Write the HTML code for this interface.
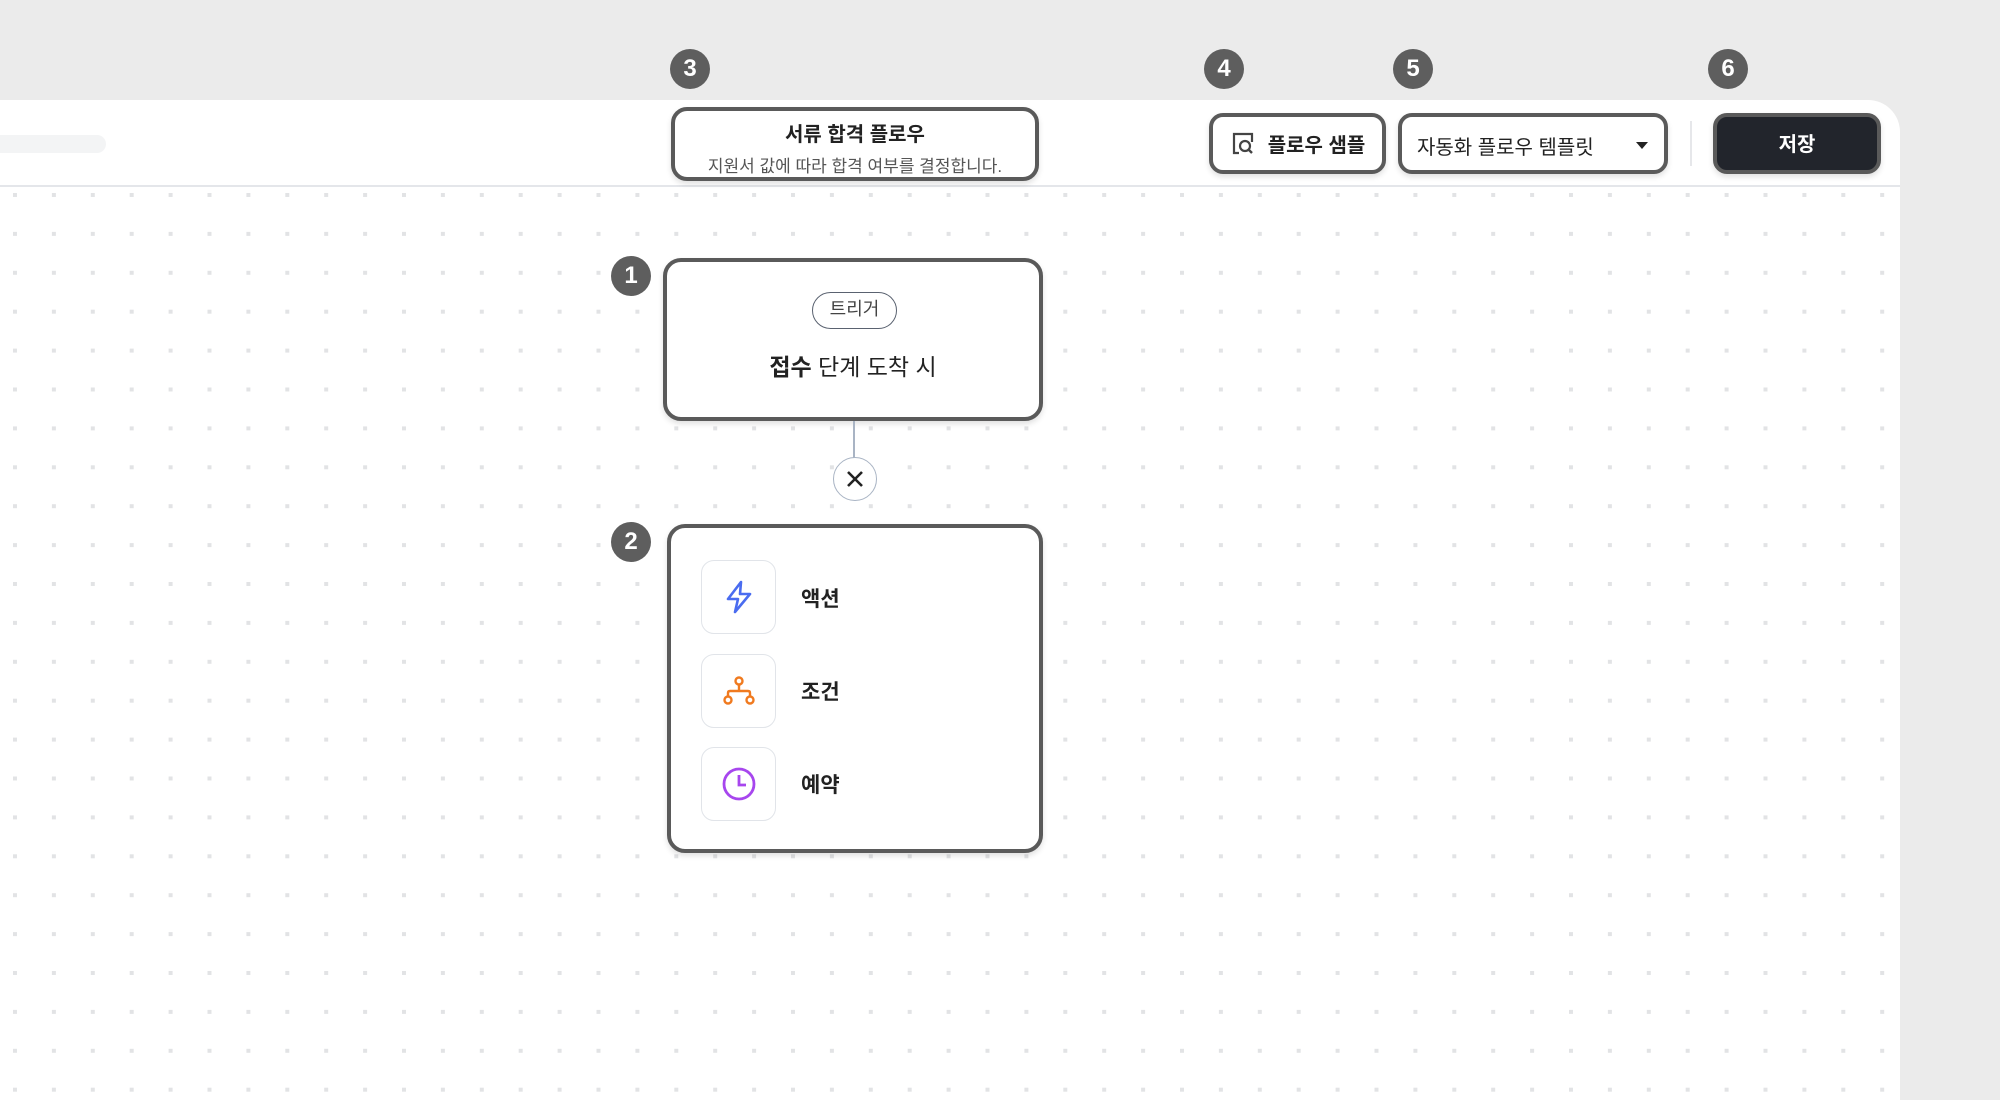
<!DOCTYPE html>
<html><head><meta charset="utf-8"><style>
*{box-sizing:border-box;margin:0;padding:0}
body{width:2000px;height:1100px;background:#ebebeb;position:relative;overflow:hidden;font-family:"Liberation Sans","Noto Sans CJK KR",sans-serif;color:#222}
.panel{position:absolute;left:0;top:100px;width:1900px;height:1000px;background:#fff;border-top-right-radius:32px;overflow:hidden}
.grid{position:absolute;left:0;top:86px;width:1900px;height:914px;background-image:linear-gradient(#fff,#fff);background:
 linear-gradient(90deg,transparent 13px,#fff 13px) , linear-gradient(transparent 7px,#fff 7px), #dedfe1;}
.dots{position:absolute;left:0;top:87px;width:1900px;height:913px;overflow:hidden}
.hline{position:absolute;left:0;top:85px;width:1900px;height:2px;background:#e4e6ea}
.a{position:absolute}
.badge{position:absolute;width:40px;height:40px;border-radius:50%;background:#5e5e5e;color:#fff;font-weight:bold;font-size:24px;text-align:center;line-height:40px}
.box{position:absolute;border:4px solid #5a5a5a;border-radius:16px;background:#fff;box-shadow:0 3px 6px rgba(0,0,0,.12)}
.ib{position:absolute;left:30px;width:75px;height:74px;border:1.5px solid #e1e4e9;border-radius:13px;display:flex;align-items:center;justify-content:center}
.lbl{position:absolute;left:130px;font-size:21px;font-weight:bold;color:#222}
</style></head><body>
<div class="panel">
  <svg class="dots" width="1900" height="913">
    <defs><pattern id="p" x="13" y="6" width="38.9" height="38.9" patternUnits="userSpaceOnUse"><rect x="0" y="0" width="4" height="4" fill="#e2e3e5"/></pattern></defs>
    <rect width="1900" height="913" fill="url(#p)"/>
  </svg>
  <div class="hline"></div>
  <div class="a" style="left:0;top:35px;width:106px;height:18px;background:#f3f4f5;border-radius:0 9px 9px 0"></div>
  <div class="a" style="left:1690px;top:21px;width:2px;height:45px;background:#e6e7ea"></div>
</div>

<div class="badge" style="left:670px;top:49px">3</div>
<div class="badge" style="left:1204px;top:49px">4</div>
<div class="badge" style="left:1393px;top:49px">5</div>
<div class="badge" style="left:1708px;top:49px">6</div>
<div class="badge" style="left:611px;top:256px">1</div>
<div class="badge" style="left:611px;top:522px">2</div>

<div class="box" style="left:671px;top:107px;width:368px;height:74px;text-align:center">
  <div style="font-size:20px;font-weight:bold;margin-top:7px">서류 합격 플로우</div>
  <div style="font-size:17px;color:#555;margin-top:5px">지원서 값에 따라 합격 여부를 결정합니다.</div>
</div>

<div class="box" style="left:1209px;top:113px;width:177px;height:61px;border-radius:14px;display:flex;align-items:center;justify-content:center;gap:12px">
  <svg width="26" height="26" viewBox="0 0 26 26"><path d="M9 22H4V3h18v8" fill="none" stroke="#444" stroke-width="2.2"/><circle cx="15" cy="15" r="5" fill="none" stroke="#444" stroke-width="2.2"/><path d="M18.5 18.5L22 22" stroke="#444" stroke-width="2.4"/></svg>
  <span style="font-size:20px;font-weight:bold">플로우 샘플</span>
</div>
<div class="box" style="left:1398px;top:113px;width:270px;height:61px;border-radius:14px">
  <span class="a" style="left:15px;top:14px;font-size:20px;color:#222">자동화 플로우 템플릿</span>
  <svg class="a" style="left:234px;top:25px" width="12" height="8"><path d="M0 0h12L6 7z" fill="#222"/></svg>
</div>
<div class="box" style="left:1713px;top:113px;width:168px;height:61px;border-radius:14px;background:#22252c;text-align:center;line-height:56px;color:#fff;font-size:20px;font-weight:bold">저장</div>

<div class="box" style="left:663px;top:258px;width:380px;height:163px;border-radius:18px">
  <div class="a" style="left:145px;top:30px;width:85px;height:37px;border:1.5px solid #5a6270;border-radius:19px;text-align:center;line-height:33px;font-size:18px;color:#444">트리거</div>
  <div class="a" style="left:0;width:372px;top:86px;text-align:center;font-size:23px;color:#222"><b>접수</b> 단계 도착 시</div>
</div>

<div class="a" style="left:853px;top:421px;width:2px;height:38px;background:#a9b4c4"></div>
<div class="a" style="left:833px;top:457px;width:44px;height:44px;border-radius:50%;border:1.5px solid #a9b4c4;background:#fff">
  <svg class="a" style="left:12px;top:12px" width="18" height="18"><path d="M2 2L16 16M16 2L2 16" stroke="#222" stroke-width="2.6"/></svg>
</div>

<div class="box" style="left:667px;top:524px;width:376px;height:329px;border-radius:18px">
  <div class="ib" style="top:32px"><svg width="30" height="34" viewBox="0 0 30 34"><path d="M17 2L4 19h10l-3 13 15-18H16z" fill="none" stroke="#4a6cf0" stroke-width="2.6" stroke-linejoin="round"/></svg></div>
  <div class="lbl" style="top:55px">액션</div>
  <div class="ib" style="top:126px"><svg width="34" height="30" viewBox="0 0 34 30"><circle cx="17" cy="5" r="3.5" fill="none" stroke="#f07a1f" stroke-width="2.4"/><circle cx="6" cy="24" r="3.5" fill="none" stroke="#f07a1f" stroke-width="2.4"/><circle cx="28" cy="24" r="3.5" fill="none" stroke="#f07a1f" stroke-width="2.4"/><path d="M17 9v6M6 20v-3q0-2 2-2h18q2 0 2 2v3" fill="none" stroke="#f07a1f" stroke-width="2.4"/></svg></div>
  <div class="lbl" style="top:148px">조건</div>
  <div class="ib" style="top:219px"><svg width="36" height="36" viewBox="0 0 36 36"><circle cx="18" cy="18" r="15" fill="none" stroke="#a746ee" stroke-width="2.8"/><path d="M18 9v10h7" fill="none" stroke="#a746ee" stroke-width="2.8"/></svg></div>
  <div class="lbl" style="top:241px">예약</div>
</div>
</body></html>
